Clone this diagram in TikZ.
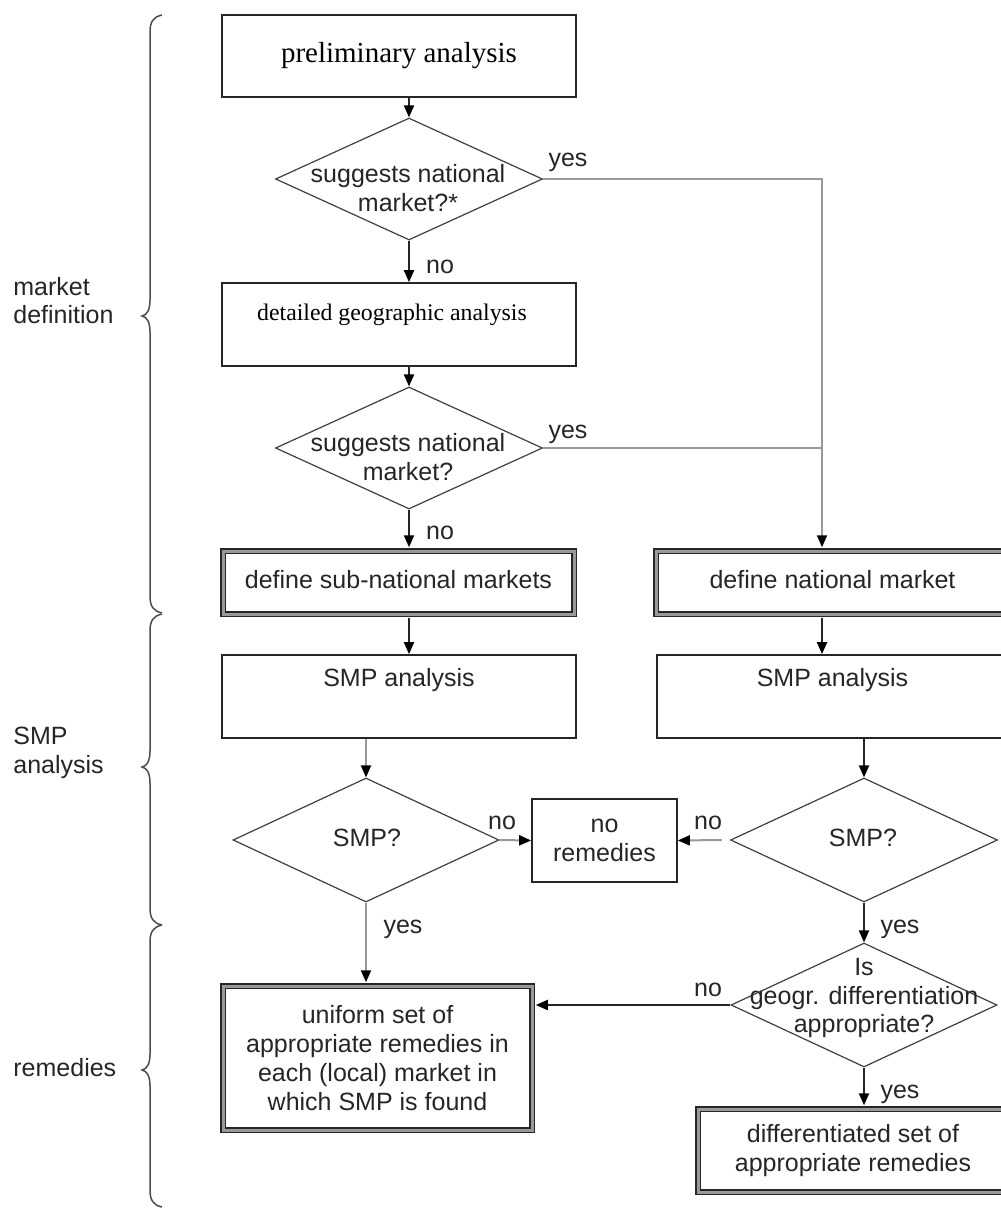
\documentclass[tikz,border=0pt]{standalone}
\usepackage{fontspec}
\setmainfont{Liberation Serif}
\setsansfont{Liberation Sans}
\usetikzlibrary{shapes.geometric,arrows.meta,calc}

% curly brace grouping the stages: top end, tip, bottom end (y values)
\newcommand\groupbrace[3]{%
  \draw[bracestyle] (162,#1) .. controls (153,{#1+2}) and (150,{#1+7}) .. (150,{#1+17})
    -- (150,{#2-16}) .. controls (150,{#2-6}) and (147,{#2-1}) .. (142,#2)
    .. controls (147,{#2+1}) and (150,{#2+6}) .. (150,{#2+16})
    -- (150,{#3-17}) .. controls (150,{#3-7}) and (153,{#3-2}) .. (162,#3);}

\begin{document}
\begin{tikzpicture}[x=0.5pt,y=-0.5pt,
  sans/.style={font=\sffamily\fontsize{12.5pt}{14.4pt}\selectfont, text=black!85},
  one/.style={text height=9.4pt, text depth=3.1pt},
  lbl/.style={sans, inner sep=0pt},
  box/.style={draw=black!85, line width=0.85pt, inner sep=0pt},
  dbox/.style={draw=black!85, line width=0.75pt, double=black!40, double distance=1.5pt, inner sep=0pt},
  dia/.style={diamond, draw=black!75, line width=0.6pt, inner sep=0pt},
  arr/.style={draw=black!85, line width=1pt, -{Triangle[length=6pt,width=5pt,color=black]}},
  garr/.style={draw=black!40, line width=1pt, -{Triangle[length=6pt,width=5pt,color=black]}},
  gline/.style={draw=black!40, line width=1pt},
  bracestyle/.style={draw=black!70, line width=0.75pt},
]
\useasboundingbox (0,0) rectangle (1001,1210);
\fill[white] (0,0) rectangle (1001,1210);
\clip (0,0) rectangle (1001,1210);

% ---- stage braces and their captions
\groupbrace{15}{316}{613}
\groupbrace{614}{767}{925}
\groupbrace{925}{1070}{1207}
\node[lbl, align=left, anchor=west] (lab1) at (13,300.5) {market\\definition};
\node[lbl, align=left, anchor=west] (lab2) at (13,752.5) {SMP\\analysis};
\node[lbl, one, anchor=west] (lab3) at (13,1070) {remedies};

% ---- market definition
\node[box, minimum width=177pt, minimum height=41pt, font=\fontsize{14.5pt}{17pt}\selectfont] (prelim) at (399,56) {preliminary analysis};
\node[dia, minimum width=133.5pt, minimum height=61pt] (d1) at (409,179) {};
\node[lbl, align=center] (d1t) at (408,188) {suggests national\\market?*};
\node[box, minimum width=177pt, minimum height=41.5pt] (geo) at (399,324.5) {};
\node[inner sep=0pt, font=\fontsize{11.9pt}{14pt}\selectfont] (geot) at (392,315) {detailed geographic analysis};
\node[dia, minimum width=133.5pt, minimum height=61pt] (d2) at (409,448) {};
\node[lbl, align=center] (d2t) at (408,457) {suggests national\\market?};
\node[dbox, sans, one, minimum width=175.5pt, minimum height=31.5pt] (subdef) at (398.5,582.5) {define sub-national markets};
\node[dbox, sans, one, minimum width=176.5pt, minimum height=31.5pt] (natdef) at (832.5,582.5) {define national market};

% ---- SMP analysis
\node[box, minimum width=177pt, minimum height=41.5pt] (smpL) at (399,696.5) {};
\node[lbl, one] (smpLt) at (399,680) {SMP analysis};
\node[box, minimum width=175.5pt, minimum height=41.5pt] (smpR) at (832.5,696.5) {};
\node[lbl, one] (smpRt) at (832.5,680) {SMP analysis};
\node[dia, minimum width=133pt, minimum height=62pt] (dL) at (366,840) {};
\node[lbl, one] (dLt) at (367,840) {SMP?};
\node[dia, minimum width=133.5pt, minimum height=62pt] (dR) at (864,840) {};
\node[lbl, one] (dRt) at (863,840) {SMP?};
\node[box, sans, align=center, minimum width=72.5pt, minimum height=41.5pt] (norem) at (604.5,840.5) {no\\remedies};

% ---- remedies
\node[dia, minimum width=133pt, minimum height=62pt] (dG) at (864,1005) {};
\node[lbl, align=center] (dGt) at (864,998) {Is\\geogr. differentiation\\appropriate?};
\node[dbox, sans, align=center, minimum width=154.5pt, minimum height=72pt] (unif) at (377.5,1058) {uniform set of\\appropriate remedies in\\each (local) market in\\which SMP is found};
\node[dbox, sans, align=center, minimum width=155pt, minimum height=41.5pt] (diff) at (853,1150.5) {differentiated set of\\appropriate remedies};

% ---- connectors
\coordinate (natin) at ($(natdef.north)+(-10.5,0)$);
\draw[arr] (prelim.south -| d1.north) -- (d1.north);
\draw[arr] (d1.south) -- (d1.south |- geo.north);
\draw[garr, shorten >=1.5pt] (d1.east) -| (natin);
\draw[arr] (geo.south -| d2.north) -- (d2.north);
\draw[arr, shorten >=1.5pt] (d2.south) -- (d2.south |- subdef.north);
\draw[gline] (d2.east) -- (d2.east -| natin);
\draw[arr, shorten <=1.5pt] (subdef.south -| d2.south) -- (d2.south |- smpL.north);
\draw[arr, shorten <=1.5pt] (natin |- natdef.south) -- (natin |- smpR.north);
\draw[garr] (dL.north |- smpL.south) -- (dL.north);
\draw[arr] (dR.north |- smpR.south) -- (dR.north);
\draw[garr] (dL.east) -- (norem.west);
\draw[garr] ($(dR.west)+(-8,0)$) -- (norem.east);
\draw[arr] (dR.south) -- (dG.north);
\draw[garr, shorten >=1.5pt] (dL.south) -- (dL.south |- unif.north);
\draw[arr, shorten >=1.5pt] (dG.west) -- (dG.west -| unif.east);
\draw[arr, shorten >=1.5pt] (dG.south) -- (dG.south |- diff.north);

% ---- branch labels
\node[lbl, one] (y1) at (568,160) {yes};
\node[lbl, one] (n1) at (440,267) {no};
\node[lbl, one] (y2) at (568,432) {yes};
\node[lbl, one] (n2) at (440,533) {no};
\node[lbl, one] (n3) at (502,823) {no};
\node[lbl, one] (n4) at (708,823) {no};
\node[lbl, one] (y3) at (900,927) {yes};
\node[lbl, one] (y4) at (403,927) {yes};
\node[lbl, one] (n5) at (708,990) {no};
\node[lbl, one] (y5) at (900,1092) {yes};
\end{tikzpicture}
\end{document}
